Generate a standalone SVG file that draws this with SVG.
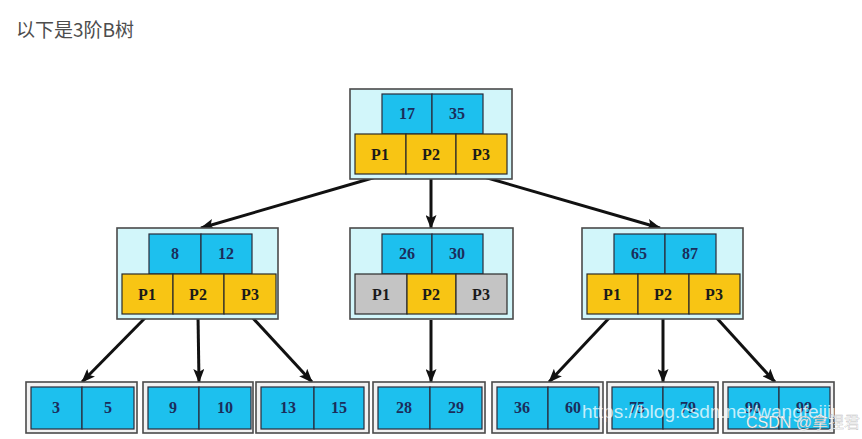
<svg xmlns="http://www.w3.org/2000/svg" width="862" height="439" viewBox="0 0 862 439">
<style>
.outer{fill:#d2f6fa;stroke:#4a4a4a;stroke-width:1.6}
.leafo{fill:#f2f2f2;stroke:#4a4a4a;stroke-width:1.6}
.key{fill:#1dc0ee;stroke:#2a2a3a;stroke-width:1.2}
.p{fill:#f8c514;stroke:#2a2a2a;stroke-width:1.2}
.pg{fill:#c4c4c4;stroke:#2a2a2a;stroke-width:1.2}
.kt{font-family:"Liberation Serif",serif;font-weight:bold;font-size:16px;fill:#1b2d5b;text-anchor:middle}
.pt{font-family:"Liberation Serif",serif;font-weight:bold;font-size:16px;fill:#1a1a1a;text-anchor:middle}
.edge{stroke:#111;stroke-width:3;fill:none;marker-end:url(#ah)}
</style>
<defs>
<marker id="ah" viewBox="0 0 14 11" refX="13" refY="5.5" markerWidth="14" markerHeight="11" markerUnits="userSpaceOnUse" orient="auto">
<path d="M0,0 L14,5.5 L0,11 L3,5.5 z" fill="#111"/>
</marker>
</defs>
<rect width="862" height="439" fill="#ffffff"/>
<text x="16" y="37" font-family="'Noto Sans CJK SC','Liberation Sans',sans-serif" font-size="19" fill="#4d4d4d">以下是3阶B树</text>

<g id="connectors">
<line class="edge" x1="376" y1="177" x2="201" y2="228"/>
<line class="edge" x1="431" y1="175" x2="431" y2="228"/>
<line class="edge" x1="484" y1="177" x2="660" y2="228"/>
<line class="edge" x1="148" y1="315" x2="82" y2="382"/>
<line class="edge" x1="198" y1="315" x2="199" y2="382"/>
<line class="edge" x1="250" y1="315" x2="312" y2="382"/>
<line class="edge" x1="431" y1="320" x2="431" y2="382"/>
<line class="edge" x1="612" y1="315" x2="549" y2="382"/>
<line class="edge" x1="663" y1="315" x2="663" y2="382"/>
<line class="edge" x1="714" y1="315" x2="775" y2="382"/>
</g>

<g id="root">
<rect class="outer" x="350" y="89" width="162" height="90"/>
<rect class="key" x="382" y="94" width="50" height="40"/>
<rect class="key" x="432" y="94" width="51" height="40"/>
<rect class="p" x="355" y="134" width="51" height="40"/>
<rect class="p" x="406" y="134" width="50" height="40"/>
<rect class="p" x="456" y="134" width="51" height="40"/>
<text class="kt" x="407" y="119">17</text>
<text class="kt" x="457" y="119">35</text>
<text class="pt" x="380" y="160">P1</text>
<text class="pt" x="431" y="160">P2</text>
<text class="pt" x="481" y="160">P3</text>
</g>

<g id="nodeLeft">
<rect class="outer" x="117" y="228" width="161" height="91"/>
<rect class="key" x="149" y="234" width="52" height="40"/>
<rect class="key" x="201" y="234" width="51" height="40"/>
<rect class="p" x="122" y="274" width="51" height="40"/>
<rect class="p" x="173" y="274" width="51" height="40"/>
<rect class="p" x="224" y="274" width="52" height="40"/>
<text class="kt" x="175" y="259">8</text>
<text class="kt" x="226" y="259">12</text>
<text class="pt" x="147" y="300">P1</text>
<text class="pt" x="198" y="300">P2</text>
<text class="pt" x="250" y="300">P3</text>
</g>

<g id="nodeMid">
<rect class="outer" x="350" y="228" width="163" height="91"/>
<rect class="key" x="382" y="234" width="50" height="40"/>
<rect class="key" x="432" y="234" width="51" height="40"/>
<rect class="pg" x="355" y="274" width="52" height="40"/>
<rect class="p" x="407" y="274" width="49" height="40"/>
<rect class="pg" x="456" y="274" width="51" height="40"/>
<text class="kt" x="407" y="259">26</text>
<text class="kt" x="457" y="259">30</text>
<text class="pt" x="381" y="300">P1</text>
<text class="pt" x="431" y="300">P2</text>
<text class="pt" x="481" y="300">P3</text>
</g>

<g id="nodeRight">
<rect class="outer" x="582" y="228" width="161" height="91"/>
<rect class="key" x="614" y="234" width="51" height="40"/>
<rect class="key" x="665" y="234" width="51" height="40"/>
<rect class="p" x="587" y="274" width="51" height="40"/>
<rect class="p" x="638" y="274" width="51" height="40"/>
<rect class="p" x="689" y="274" width="51" height="40"/>
<text class="kt" x="639" y="259">65</text>
<text class="kt" x="690" y="259">87</text>
<text class="pt" x="612" y="300">P1</text>
<text class="pt" x="663" y="300">P2</text>
<text class="pt" x="714" y="300">P3</text>
</g>

<g id="leaf1">
<rect class="leafo" x="26" y="382" width="111" height="51"/>
<rect class="key" x="31" y="387" width="51" height="42"/>
<rect class="key" x="82" y="387" width="52" height="42"/>
<text class="kt" x="56" y="413">3</text>
<text class="kt" x="108" y="413">5</text>
</g>
<g id="leaf2">
<rect class="leafo" x="143" y="382" width="110" height="51"/>
<rect class="key" x="148" y="387" width="51" height="42"/>
<rect class="key" x="199" y="387" width="52" height="42"/>
<text class="kt" x="173" y="413">9</text>
<text class="kt" x="225" y="413">10</text>
</g>
<g id="leaf3">
<rect class="leafo" x="256" y="382" width="113" height="51"/>
<rect class="key" x="261" y="387" width="53" height="42"/>
<rect class="key" x="314" y="387" width="50" height="42"/>
<text class="kt" x="288" y="413">13</text>
<text class="kt" x="339" y="413">15</text>
</g>
<g id="leaf4">
<rect class="leafo" x="373" y="382" width="112" height="51"/>
<rect class="key" x="378" y="387" width="52" height="42"/>
<rect class="key" x="430" y="387" width="52" height="42"/>
<text class="kt" x="404" y="413">28</text>
<text class="kt" x="456" y="413">29</text>
</g>
<g id="leaf5">
<rect class="leafo" x="492" y="382" width="111" height="51"/>
<rect class="key" x="497" y="387" width="51" height="42"/>
<rect class="key" x="548" y="387" width="51" height="42"/>
<text class="kt" x="522" y="413">36</text>
<text class="kt" x="573" y="413">60</text>
</g>
<g id="leaf6">
<rect class="leafo" x="607" y="382" width="111" height="51"/>
<rect class="key" x="612" y="387" width="51" height="42"/>
<rect class="key" x="663" y="387" width="51" height="42"/>
<text class="kt" x="637" y="413">75</text>
<text class="kt" x="688" y="413">79</text>
</g>
<g id="leaf7">
<rect class="leafo" x="723" y="382" width="111" height="51"/>
<rect class="key" x="728" y="387" width="51" height="42"/>
<rect class="key" x="779" y="387" width="51" height="42"/>
<text class="kt" x="753" y="413">90</text>
<text class="kt" x="804" y="413">99</text>
</g>

<text x="582" y="418" font-family="'Liberation Sans',sans-serif" font-size="19" fill="#ffffff" fill-opacity="0.75">https://blog.csdn.net/wangfeijiu</text>
<text x="746" y="428" font-family="'Liberation Sans','Noto Sans CJK SC',sans-serif" font-size="16" fill="#ffffff" stroke="#888888" stroke-width="0.4" stroke-opacity="0.6">CSDN @拿捏君</text>
</svg>
